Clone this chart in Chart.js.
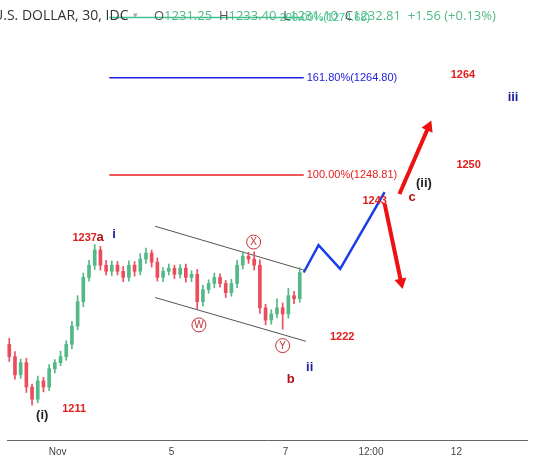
<!DOCTYPE html>
<html>
<head>
<meta charset="utf-8">
<script src="https://cdn.jsdelivr.net/npm/chart.js@4/dist/chart.umd.min.js"></script>
<style>
  html, body { margin: 0; padding: 0; background: #fff; }
  #wrap { width: 534px; height: 462px; position: relative; }
</style>
</head>
<body>
<div id="wrap"><canvas id="c"></canvas></div>
<script>
/* --- Data (x = trading days from Nov 1, y = price) --- */
var candleX = [-0.85,-0.75,-0.65,-0.55,-0.45,-0.35,-0.25,-0.15,-0.05,0.05,0.15,0.25,0.35,0.45,0.55,0.65,0.75,0.85,0.95,1.05,
  1.15,1.25,1.35,1.45,1.55,1.65,1.75,1.85,1.95,2.05,2.15,2.25,2.35,2.45,2.55,2.65,2.75,2.85,2.95,3.05,
  3.15,3.25,3.35,3.45,3.55,3.65,3.75,3.85,3.95,4.05,4.15,4.25];
var closes = [1219,1216,1218,1214,1212,1215,1214,1217,1218,1219,1221,1224,1228,1232,1234,1236.5,1234,1233,1234,1233,
  1232,1234,1233,1235,1236,1234.5,1232,1233,1233.5,1232.5,1233.5,1232,1232.5,1228,1230,1231,1232,1231,1229.5,1231,
  1234,1235.5,1235,1234,1227,1225,1226,1227,1226,1229,1228.5,1232.8];
var firstOpen = 1221;
var wickUp = [1,0.8,0.6,0.7,0.5,0.8,0.6,0.7,0.5,0.9,0.6,0.8,1,0.7,0.8,0.9,0.6,0.8,0.7,0.6,
  0.8,0.7,0.6,0.9,0.8,0.5,0.7,0.6,0.7,0.5,0.6,0.7,0.6,0.8,0.7,0.6,0.7,0.6,0.5,0.7,
  0.8,0.7,0.6,1.2,0.9,0.6,0.7,1.5,0.8,1.2,0.7,0.8];
var wickDn = [0.8,0.7,0.6,0.9,1,0.6,0.8,0.6,0.7,0.5,0.6,0.7,0.6,0.8,0.6,0.7,0.8,0.6,0.7,0.6,
  0.7,0.6,0.8,0.6,0.7,0.8,0.6,0.7,0.6,0.7,0.6,0.8,0.7,1.2,0.7,0.6,0.7,0.6,0.8,0.6,
  0.7,0.6,0.7,0.8,0.9,0.8,0.7,0.6,2.5,0.7,0.8,0.6];

var tickVals = [0, 2, 4, 5.5, 7];
var tickLabels = ['Nov', '5', '7', '12:00', '12'];

var levelX = [0.906, 4.32];
var level200 = 1274.68, level161 = 1264.80, level100 = 1248.81;

var chanX = [1.71, 4.36];
var chanUpper = [1240.4, 1233.1];
var chanLower = [1228.7, 1221.5];

var blueX = [4.32, 4.58, 4.96, 5.74];
var blueY = [1232.8, 1237.3, 1233.4, 1246.0];
var arrowUpX = [6.0, 6.51], arrowUpY = [1245.7, 1256.7];
var arrowDnX = [5.74, 6.03], arrowDnY = [1244.1, 1231.2];

/* annotations: [x, y, text, color, font] */
var labels = [
  [6.9, 1265.2, '1264', '#e0201f', 'bold 11px Arial'],
  [7.0, 1250.4, '1250', '#e0201f', 'bold 11px Arial'],
  [5.35, 1244.5, '1243', '#e0201f', 'bold 11px Arial'],
  [0.26, 1238.5, '1237', '#e0201f', 'bold 11px Arial'],
  [4.78, 1222.2, '1222', '#e0201f', 'bold 11px Arial'],
  [0.08, 1210.4, '1211', '#e0201f', 'bold 11px Arial'],
  [0.68, 1238.5, 'a', '#b01010', 'bold 13px Arial'],
  [0.96, 1239.1, 'i', '#2020a0', 'bold 13px Arial'],
  [4.02, 1215.3, 'b', '#b01010', 'bold 13px Arial'],
  [4.36, 1217.2, 'ii', '#2020a0', 'bold 13px Arial'],
  [-0.38, 1209.4, '(i)', '#222', 'bold 13px Arial'],
  [6.29, 1247.5, '(ii)', '#222', 'bold 13px Arial'],
  [6.16, 1245.2, 'c', '#b01010', 'bold 13px Arial'],
  [7.9, 1261.6, 'iii', '#2020a0', 'bold 13px Arial']
];
var circled = [[2.48, 1224.2, 'W'], [3.44, 1237.8, 'X'], [3.95, 1220.8, 'Y']];

/* --- Build candles --- */
var bodies = [], wicks = [], bodyColors = [];
for (var i = 0; i < closes.length; i++) {
  var o = i === 0 ? firstOpen : closes[i - 1];
  var c = closes[i];
  bodies.push({ x: candleX[i], y: [o, c] });
  wicks.push({ x: candleX[i], y: [Math.min(o, c) - wickDn[i], Math.max(o, c) + wickUp[i]] });
  bodyColors.push(c >= o ? '#53b987' : '#eb4d5c');
}

function pts(xs, ys) {
  return xs.map(function (x, i) { return { x: x, y: ys[i] }; });
}

function arrowSet(xs, ys, rot) {
  return {
    type: 'line', data: pts(xs, ys), borderColor: '#ee1111', borderWidth: 4,
    pointRadius: [0, 7], pointStyle: 'triangle', pointBackgroundColor: '#ee1111', pointBorderWidth: 0,
    pointRotation: rot
  };
}

var textPlugin = {
  id: 'texts',
  afterDatasetsDraw: function (chart) {
    var ctx = chart.ctx, xs = chart.scales.x, ys = chart.scales.y;
    ctx.save();
    ctx.textBaseline = 'middle';
    ctx.textAlign = 'left';
    ctx.font = '11px Arial';
    var lx = xs.getPixelForValue(levelX[1]) + 3;
    ctx.fillStyle = '#2222dd';
    ctx.fillText('161.80%(' + level161.toFixed(2) + ')', lx, ys.getPixelForValue(level161));
    ctx.fillStyle = '#e62020';
    ctx.fillText('100.00%(' + level100.toFixed(2) + ')', lx, ys.getPixelForValue(level100));
    ctx.fillStyle = '#3ec290';
    ctx.fillText('200.00%(' + level200.toFixed(2) + ')', lx - 27, ys.getPixelForValue(level200));
    labels.forEach(function (l) {
      ctx.font = l[4]; ctx.fillStyle = l[3];
      ctx.fillText(l[2], xs.getPixelForValue(l[0]), ys.getPixelForValue(l[1]));
    });
    ctx.textAlign = 'center';
    circled.forEach(function (l) {
      var px = xs.getPixelForValue(l[0]), py = ys.getPixelForValue(l[1]);
      ctx.strokeStyle = '#c03030'; ctx.lineWidth = 1;
      ctx.beginPath(); ctx.arc(px, py, 7, 0, Math.PI * 2); ctx.stroke();
      ctx.font = '10px Arial'; ctx.fillStyle = '#c03030';
      ctx.fillText(l[2], px, py + 0.5);
    });
    // header
    ctx.textAlign = 'left';
    ctx.font = '14px "Open Sans"';
    ctx.fillStyle = '#333';
    ctx.fillText('U.S. DOLLAR, 30, IDC', -7, 16);
    ctx.fillStyle = '#aaa'; ctx.font = '9px Arial'; ctx.fillText('\u25BE', 133, 16);
    var parts = [['O', '#555'], ['1231.25  ', '#53b987'], ['H', '#555'], ['1233.40  ', '#53b987'],
      ['L', '#555'], ['1231.10  ', '#53b987'], ['C', '#555'], ['1232.81  +1.56 (+0.13%)', '#53b987']];
    var x = 154;
    ctx.font = '13px "Open Sans"';
    parts.forEach(function (p) {
      ctx.fillStyle = p[1]; ctx.fillText(p[0], x, 16); x += ctx.measureText(p[0]).width;
    });
    ctx.restore();
  }
};

var flat = { type: 'line', borderWidth: 1.5, pointRadius: 0 };

new Chart(document.getElementById('c'), {
  data: {
    datasets: [
      { type: 'bar', data: wicks, backgroundColor: bodyColors, barThickness: 1, grouped: false },
      { type: 'bar', data: bodies, backgroundColor: bodyColors, barThickness: 3, grouped: false, minBarLength: 1 },
      Object.assign({}, flat, { data: pts(levelX, [level200, level200]), borderColor: '#3ec290' }),
      Object.assign({}, flat, { data: pts(levelX, [level161, level161]), borderColor: '#2222dd' }),
      Object.assign({}, flat, { data: pts(levelX, [level100, level100]), borderColor: '#e62020' }),
      Object.assign({}, flat, { data: pts(chanX, chanUpper), borderColor: '#555', borderWidth: 1 }),
      Object.assign({}, flat, { data: pts(chanX, chanLower), borderColor: '#555', borderWidth: 1 }),
      Object.assign({}, flat, { data: pts(blueX, blueY), borderColor: '#1a3ee8', borderWidth: 2.5 }),
      arrowSet(arrowUpX, arrowUpY, 24),
      arrowSet(arrowDnX, arrowDnY, 168)
    ]
  },
  options: {
    responsive: true,
    maintainAspectRatio: false,
    animation: false,
    layout: { padding: 0 },
    plugins: { legend: { display: false }, tooltip: { enabled: false } },
    scales: {
      x: {
        type: 'linear', min: -0.89, max: 8.24, offset: false,
        grid: { display: false, drawTicks: false, offset: false },
        border: { color: '#666' },
        afterBuildTicks: function (ax) { ax.ticks = tickVals.map(function (v) { return { value: v }; }); },
        afterFit: function (ax) { ax.height = 22; ax.paddingLeft = 0; ax.paddingRight = 0; },
        ticks: {
          color: '#444', font: { size: 10, family: 'Arial' }, padding: 6, maxRotation: 0,
          callback: function (v) { var k = tickVals.indexOf(v); return k >= 0 ? tickLabels[k] : ''; }
        }
      },
      y: { type: 'linear', display: false, min: 1205.3, max: 1276.4 }
    }
  },
  plugins: [textPlugin]
});
</script>
</body>
</html>
